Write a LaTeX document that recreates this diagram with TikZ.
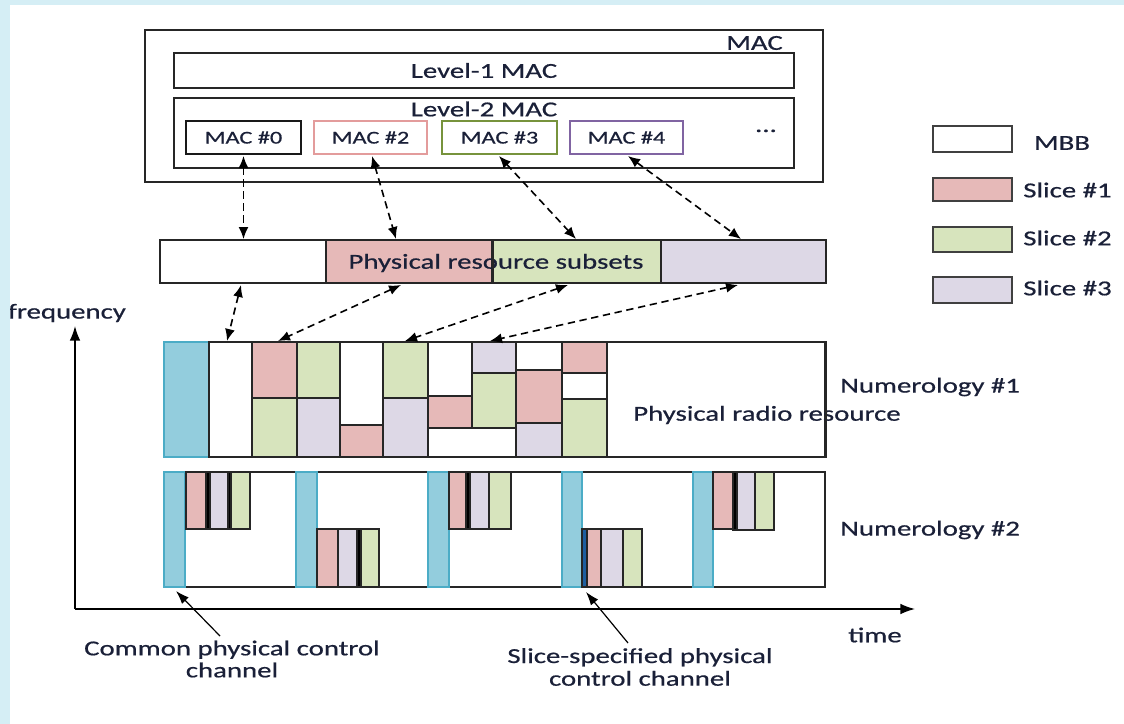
\documentclass[tikz,border=0pt]{standalone}
\usepackage{fontspec}
\setmainfont{Carlito}[FakeStretch=1.35,FakeBold=0.6]
\usetikzlibrary{arrows.meta,fit}
\definecolor{txt}{HTML}{1A2038}
\definecolor{slA}{HTML}{E6B9B8}
\definecolor{slB}{HTML}{D7E4BD}
\definecolor{slC}{HTML}{DDD8E6}
\definecolor{ctl}{HTML}{93CDDD}
\definecolor{ctlb}{HTML}{4BACC6}
\definecolor{bandc}{HTML}{D5EEF5}
\definecolor{macA}{HTML}{E39C9C}
\definecolor{macB}{HTML}{77933C}
\definecolor{macC}{HTML}{8064A2}
\definecolor{sctl}{HTML}{1F5FA0}
\tikzset{
  lbl/.style={font=\fontsize{16}{19}\selectfont, text=txt, inner sep=0pt},
  smalllbl/.style={font=\fontsize{13.5}{16}\selectfont, text=txt, inner sep=0pt},
  box/.style={draw=black!85, line width=1.2pt, inner sep=0pt},
  cell/.style={draw=black!85, line width=1.1pt},
  ctlcol/.style={fill=ctl, draw=ctlb, line width=1pt},
  legbox/.style={draw=black!75, line width=1.7pt, inner sep=0pt},
  darr/.style={line width=1.2pt, dash pattern=on 5.5pt off 3.5pt,
    {Latex[length=9pt,width=7.5pt]}-{Latex[length=9pt,width=7.5pt]}},
  axisarr/.style={line width=1.1pt, -{Latex[length=11pt,width=8pt]}},
  ptr/.style={line width=0.9pt, -{Latex[length=10pt,width=7pt]}},
}
\begin{document}
\begin{tikzpicture}[x=0.75pt,y=-0.75pt]
\useasboundingbox (0,0) rectangle (1124,724);
\fill[white] (0,0) rectangle (1124,724);

% ---------- MAC block ----------
\node[box, fit={(145,30)(823,182)}] (mac) {};
\node[lbl, anchor=east] (maclbl) at (783,43) {MAC};
\node[box, fit={(174,53)(794,88)}] (l1) {};
\node[lbl] at (l1.center) {Level-1 MAC};
\node[box, fit={(174,98)(794,168)}] (l2) {};
\node[lbl] (l2lbl) at (484,109) {Level-2 MAC};
\node[box, draw=black!90, fit={(186,121)(301,154)}] (m0) {};
\node[smalllbl] at (m0.center) {MAC \#0};
\node[box, draw=macA, fit={(314,121)(427,154)}] (m2) {};
\node[smalllbl] at (m2.center) {MAC \#2};
\node[box, draw=macB, fit={(442,121)(557,154)}] (m3) {};
\node[smalllbl] at (m3.center) {MAC \#3};
\node[box, draw=macC, fit={(570,121)(683,154)}] (m4) {};
\node[smalllbl] at (m4.center) {MAC \#4};
\node[lbl, anchor=base] (dots) at (766,132) {...};

% ---------- Physical resource subsets ----------
\node[box, fill=white, fit={(160,240)(326,283)}] (s0) {};
\node[box, fill=slA, fit={(326,240)(492,283)}] (s1) {};
\node[box, fill=slB, fit={(492,240)(661,283)}] (s2) {};
\node[box, fill=slC, fit={(661,240)(826,283)}] (s3) {};
\node[lbl] (prs) at (496,263) {Physical resource subsets};
\draw[line width=1.2pt, draw=black!85] (s1.north east) -- (s1.south east);

% ---------- Numerology #1 ----------
\node[box, fill=white, fit={(165,342)(825,457)}] (num1) {};
\draw[ctlcol] (164,342) rectangle (209,457);
\draw[cell, fill=white] (209,342) rectangle (252,457);
\draw[cell, fill=slA] (252,342) rectangle (297,398);
\draw[cell, fill=slB] (252,398) rectangle (297,457);
\draw[cell, fill=slB] (297,342) rectangle (340,398);
\draw[cell, fill=slC] (297,398) rectangle (340,457);
\draw[cell, fill=white] (340,342) rectangle (383,425);
\draw[cell, fill=slA] (340,425) rectangle (383,457);
\draw[cell, fill=slB] (383,342) rectangle (428,398);
\draw[cell, fill=slC] (383,398) rectangle (428,457);
\draw[cell, fill=white] (428,342) rectangle (472,396);
\draw[cell, fill=slA] (428,396) rectangle (472,428);
\draw[cell, fill=white] (428,428) rectangle (516,457);
\draw[cell, fill=slC] (472,342) rectangle (516,373);
\draw[cell, fill=slB] (472,373) rectangle (516,428);
\draw[cell, fill=white] (516,342) rectangle (562,370);
\draw[cell, fill=slA] (516,370) rectangle (562,423);
\draw[cell, fill=slC] (516,423) rectangle (562,457);
\draw[cell, fill=slA] (562,342) rectangle (607,373);
\draw[cell, fill=white] (562,373) rectangle (607,399);
\draw[cell, fill=slB] (562,399) rectangle (607,457);
\node[lbl, anchor=west] (n1lbl) at (840,387) {Numerology \#1};
\node[lbl, anchor=west] (prr) at (633,415) {Physical radio resource};
\draw[line width=1.2pt, draw=black!85] (num1.north east) -- (num1.south east);

% ---------- Numerology #2 ----------
\node[box, fill=white, fit={(165,472)(825,587)}] (num2) {};
% group 1
\draw[ctlcol] (164,472) rectangle (185,587);
\draw[cell, fill=slA] (186,472) rectangle (206,529);
\draw[cell, fill=black] (206,472) rectangle (210,529);
\draw[cell, fill=slC] (210,472) rectangle (228,529);
\draw[cell, fill=black] (228,472) rectangle (231,529);
\draw[cell, fill=slB] (231,472) rectangle (250,529);
% group 2
\draw[ctlcol] (296,472) rectangle (317,587);
\draw[cell, fill=slA] (317,529) rectangle (338,587);
\draw[cell, fill=slC] (338,529) rectangle (357,587);
\draw[cell, fill=black] (357,529) rectangle (361,587);
\draw[cell, fill=slB] (361,529) rectangle (379,587);
% group 3
\draw[ctlcol] (428,472) rectangle (449,587);
\draw[cell, fill=slA] (449,472) rectangle (466,529);
\draw[cell, fill=black] (466,472) rectangle (470,529);
\draw[cell, fill=slC] (470,472) rectangle (489,529);
\draw[cell, fill=slB] (489,472) rectangle (511,529);
% group 4
\draw[ctlcol] (562,472) rectangle (582,587);
\draw[cell, fill=sctl] (582,529) rectangle (587,587);
\draw[cell, fill=slA] (587,529) rectangle (601,587);
\draw[cell, fill=slC] (601,529) rectangle (623,587);
\draw[cell, fill=slB] (623,529) rectangle (642,587);
% group 5
\draw[ctlcol] (693,472) rectangle (713,587);
\draw[cell, fill=slA] (713,472) rectangle (733,529);
\draw[cell, fill=black] (733,472) rectangle (737,530);
\draw[cell, fill=slC] (737,472) rectangle (755,530);
\draw[cell, fill=slB] (755,472) rectangle (774,530);
\node[lbl, anchor=west] (n2lbl) at (840,530) {Numerology \#2};

% ---------- dashed connectors MAC -> subsets ----------
\coordinate (a0t) at (243.5,156);  \coordinate (a0b) at (243.5,239);
\coordinate (a2t) at (372,156);    \coordinate (a2b) at (396,239);
\coordinate (a3t) at (499,156);    \coordinate (a3b) at (576,239);
\coordinate (a4t) at (628,156);    \coordinate (a4b) at (741,239);
\draw[darr] (a0t) -- (a0b);
\draw[darr] (a2t) -- (a2b);
\draw[darr] (a3t) -- (a3b);
\draw[darr] (a4t) -- (a4b);

% ---------- dashed connectors subsets -> numerology #1 ----------
\coordinate (b0t) at (241,285);  \coordinate (b0b) at (227,341);
\coordinate (b1t) at (401,285);  \coordinate (b1b) at (278,341);
\coordinate (b2t) at (568,285);  \coordinate (b2b) at (405,341);
\coordinate (b3t) at (738,285);  \coordinate (b3b) at (490,341);
\draw[darr] (b0t) -- (b0b);
\draw[darr] (b1t) -- (b1b);
\draw[darr] (b2t) -- (b2b);
\draw[darr] (b3t) -- (b3b);

% ---------- axes ----------
\coordinate (origin) at (75,609);
\coordinate (fend) at (75,326);
\coordinate (tend) at (915,609);
\draw[axisarr] (origin) -- (fend);
\draw[axisarr] (origin) -- (tend);
\node[lbl] (freq) at (67,313) {frequency};
\node[lbl] (time) at (875,635) {time};

% ---------- pointer labels ----------
\node[lbl, align=center, font=\fontsize{16}{16.5}\selectfont] (cpc) at (232,659) {Common physical control\\channel};
\coordinate (cpcTip) at (176,591);
\draw[ptr] (220,636) -- (cpcTip);
\node[lbl, align=center, font=\fontsize{16}{17}\selectfont] (spc) at (640,667) {Slice-specified physical\\control channel};
\coordinate (spcTip) at (586,592);
\draw[ptr] (628,643) -- (spcTip);

% ---------- legend ----------
\node[legbox, fill=white, fit={(933,126)(1012,152)}] (lg0) {};
\node[legbox, fill=slA, fit={(933,178)(1012,201)}] (lg1) {};
\node[legbox, fill=slB, fit={(933,227)(1012,252)}] (lg2) {};
\node[legbox, fill=slC, fit={(933,277)(1012,303)}] (lg3) {};
\node[lbl] (lt0) at (1062,143) {MBB};
\node[lbl, anchor=west] (lt1) at (1023,190) {Slice \#1};
\node[lbl, anchor=west] (lt2) at (1023,238) {Slice \#2};
\node[lbl, anchor=west] (lt3) at (1023,288) {Slice \#3};

% ---------- frame band ----------
\fill[bandc] (0,0) rectangle (1124,5);
\fill[bandc] (0,0) rectangle (10,724);
\end{tikzpicture}
\end{document}
